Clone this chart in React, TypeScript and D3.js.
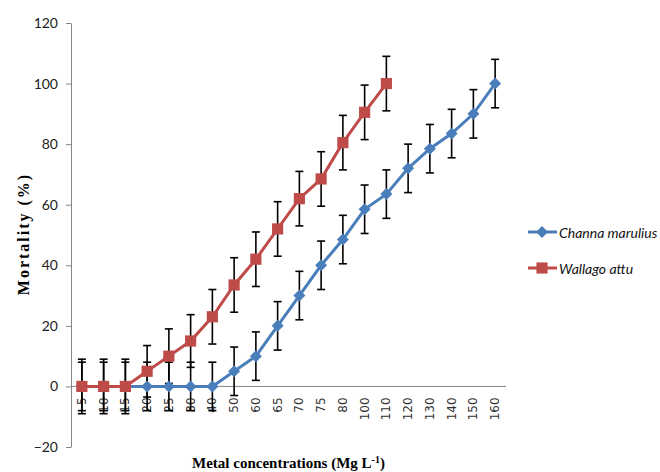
import React, { useEffect, useRef } from "react";
import * as d3 from "d3";

const categories = ["5", "10", "15", "20", "25", "30", "40", "50", "60", "65", "70", "75", "80", "100", "110", "120", "130", "140", "150", "160"];
const channa = [0, 0, 0, 0, 0, 0, 0, 5, 10, 20, 30, 40, 48.5, 58.5, 63.5, 72, 78.5, 83.5, 90, 100];
const channaErr = [8, 8, 8, 8, 8, 8, 8, 8, 8, 8, 8, 8, 8, 8, 8, 8, 8, 8, 8, 8];
const wallago = [0, 0, 0, 5, 10, 15, 23, 33.5, 42, 52, 62, 68.5, 80.5, 90.5, 100];
const wallagoErr = [9, 9, 9, 8.5, 9, 8.7, 9, 9, 9, 9, 9, 9, 9, 9, 9];
const yTicks = [-20, 0, 20, 40, 60, 80, 100, 120];

const BLUE = "#4A7EBB";
const RED = "#BE4B48";

const App = () => {
  const svgRef = useRef<SVGSVGElement>(null);

  useEffect(() => {
    const width = 660;
    const height = 472;
    const left = 71, right = 506, top = 23, bottom = 447;

    const svg = d3.select(svgRef.current).attr("width", width).attr("height", height);
    svg.selectAll("*").remove();

    const x = d3.scaleBand().domain(categories).range([left, right]).padding(0);
    const cx = (c: string) => (x(c) as number) + x.bandwidth() / 2;
    const y = d3.scaleLinear().domain([-20, 120]).range([bottom, top]);

    // y axis
    const yAxis = svg.append("g")
      .attr("transform", `translate(${left},0)`)
      .call(d3.axisLeft(y).tickValues(yTicks).tickSize(5).tickPadding(8).tickSizeOuter(0));
    yAxis.select(".domain").attr("stroke", "#868686");
    yAxis.selectAll(".tick line").attr("stroke", "#868686");
    yAxis.selectAll("text")
      .attr("font-family", "Lato, sans-serif")
      .attr("font-size", 14)
      .attr("fill", "#222");

    // x axis at zero
    svg.append("line")
      .attr("x1", left).attr("x2", right)
      .attr("y1", y(0)).attr("y2", y(0))
      .attr("stroke", "#868686");

    svg.append("g").selectAll("text")
      .data(categories)
      .join("text")
      .attr("transform", d => `translate(${cx(d)},${y(0) + 11}) rotate(-90)`)
      .attr("text-anchor", "end")
      .attr("dominant-baseline", "central")
      .attr("font-family", "DejaVu Sans, Verdana, sans-serif")
      .attr("font-size", 12)
      .attr("fill", "#333")
      .text(d => d);

    // error bars
    const drawErr = (vals: number[], errs: number[]) => {
      const g = svg.append("g").attr("stroke", "#000").attr("stroke-width", 1.6);
      vals.forEach((v, i) => {
        const xc = cx(categories[i]);
        const y1 = y(v + errs[i]);
        const y2 = y(v - errs[i]);
        g.append("line").attr("x1", xc).attr("x2", xc).attr("y1", y1).attr("y2", y2);
        g.append("line").attr("x1", xc - 4).attr("x2", xc + 4).attr("y1", y1).attr("y2", y1);
        g.append("line").attr("x1", xc - 4).attr("x2", xc + 4).attr("y1", y2).attr("y2", y2);
      });
    };
    drawErr(channa, channaErr);
    drawErr(wallago, wallagoErr);

    const line = d3.line<number>()
      .x((_, i) => cx(categories[i]))
      .y(d => y(d));

    const diamond = d3.symbol().type(d3.symbolSquare).size(72);
    const square = d3.symbol().type(d3.symbolSquare).size(125);

    // Channa marulius
    svg.append("path")
      .datum(channa)
      .attr("fill", "none")
      .attr("stroke", BLUE)
      .attr("stroke-width", 3)
      .attr("d", line);
    svg.append("g").selectAll("path")
      .data(channa)
      .join("path")
      .attr("transform", (d, i) => `translate(${cx(categories[i])},${y(d)}) rotate(45)`)
      .attr("d", diamond())
      .attr("fill", BLUE);

    // Wallago attu
    svg.append("path")
      .datum(wallago)
      .attr("fill", "none")
      .attr("stroke", RED)
      .attr("stroke-width", 3)
      .attr("d", line);
    svg.append("g").selectAll("path")
      .data(wallago)
      .join("path")
      .attr("transform", (d, i) => `translate(${cx(categories[i])},${y(d)})`)
      .attr("d", square())
      .attr("fill", RED);

    // axis titles
    svg.append("text")
      .attr("transform", `translate(29,${234}) rotate(-90)`)
      .attr("text-anchor", "middle")
      .attr("font-family", "Liberation Serif, Times New Roman, serif")
      .attr("font-weight", "bold")
      .attr("font-size", 16)
      .attr("letter-spacing", 2)
      .text("Mortality (%)");

    const xt = svg.append("text")
      .attr("x", (left + right) / 2)
      .attr("y", 468)
      .attr("text-anchor", "middle")
      .attr("font-family", "Liberation Serif, Times New Roman, serif")
      .attr("font-weight", "bold")
      .attr("font-size", 15)
      .text("Metal concentrations (Mg L");
    xt.append("tspan")
      .attr("dy", -5)
      .attr("font-size", 10)
      .text("-1");
    xt.append("tspan")
      .attr("dy", 5)
      .text(")");

    // legend
    const legend = [
      { name: "Channa marulius", color: BLUE, sym: diamond, rot: 45, y: 232 },
      { name: "Wallago attu", color: RED, sym: square, rot: 0, y: 268 },
    ];
    legend.forEach(l => {
      svg.append("line")
        .attr("x1", 528).attr("x2", 557)
        .attr("y1", l.y).attr("y2", l.y)
        .attr("stroke", l.color)
        .attr("stroke-width", 3);
      svg.append("path")
        .attr("transform", `translate(542,${l.y}) rotate(${l.rot})`)
        .attr("d", l.sym())
        .attr("fill", l.color);
      svg.append("text")
        .attr("x", 559)
        .attr("y", l.y)
        .attr("dominant-baseline", "central")
        .attr("font-family", "Lato, sans-serif")
        .attr("font-style", "italic")
        .attr("font-size", 14)
        .attr("fill", "#111")
        .text(l.name);
    });
  }, []);

  return (
    <svg
      ref={svgRef}
      style={{ position: "absolute", left: 0, top: 0, background: "#fff" }}
    ></svg>
  );
};

export default App;
